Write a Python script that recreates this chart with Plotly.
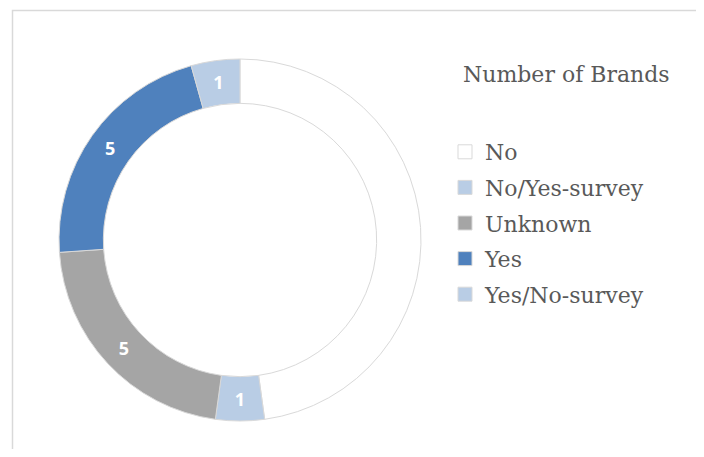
import plotly.graph_objects as go

labels = ['No', 'No/Yes-survey', 'Unknown', 'Yes', 'Yes/No-survey']
values = [11, 1, 5, 5, 1]
shown = ['', '1', '5', '5', '1']
colors = ['#ffffff', '#b9cde5', '#a5a5a5', '#4f81bd', '#b9cde5']
legend_title = 'Number of Brands'

OFF = 8  # page body margin
W, H = 704 - OFF, 457 - 2 * OFF

def px(x):
	return (x - OFF) / W

def py(y):
	return 1 - (y - OFF) / H

fig = go.Figure()

fig.add_trace(
	go.Pie(
		labels = labels,
		values = values,
		text = shown,
		textinfo = 'text',
		textposition = 'inside',
		insidetextorientation = 'horizontal',
		textfont = dict(family = 'Open Sans', size = 18, color = 'white', weight = 'bold'),
		hole = 0.755,
		sort = False,
		direction = 'clockwise',
		rotation = 0,
		marker = dict(colors = colors, line = dict(color = '#d9d9d9', width = 1)),
		domain = dict(x = [px(59), px(421)], y = [py(421), py(59)]),
		showlegend = False,
	)
)

# legend entries as dummy traces so the spacing can match
for lab, col in zip(labels, colors):
	fig.add_trace(
		go.Scatter(
			x = [None], y = [None],
			mode = 'markers',
			name = lab,
			legendgroup = lab,
			marker = dict(symbol = 'square', size = 14, color = col,
				line = dict(color = '#d9d9d9', width = 1)),
		)
	)

fig.add_shape(
	type = 'rect', xref = 'paper', yref = 'paper',
	x0 = px(12.5), x1 = px(701.5), y0 = -0.1, y1 = py(10.5),
	line = dict(color = '#d9d9d9', width = 1.5),
)

fig.add_annotation(
	text = legend_title, xref = 'paper', yref = 'paper',
	x = px(461), y = py(75), xanchor = 'left', yanchor = 'middle',
	showarrow = False,
	font = dict(family = 'DejaVu Serif', size = 22, color = '#595959'),
)

fig.update_layout(
	width = W, height = H,
	margin = dict(l = 0, r = 0, t = 0, b = 0),
	paper_bgcolor = 'white',
	plot_bgcolor = 'white',
	xaxis = dict(visible = False),
	yaxis = dict(visible = False),
	legend = dict(
		x = px(445), y = py(131), xanchor = 'left', yanchor = 'top',
		font = dict(family = 'DejaVu Serif', size = 22, color = '#595959'),
		tracegroupgap = 4,
		itemwidth = 30,
	),
)

fig.write_html("out.html")
